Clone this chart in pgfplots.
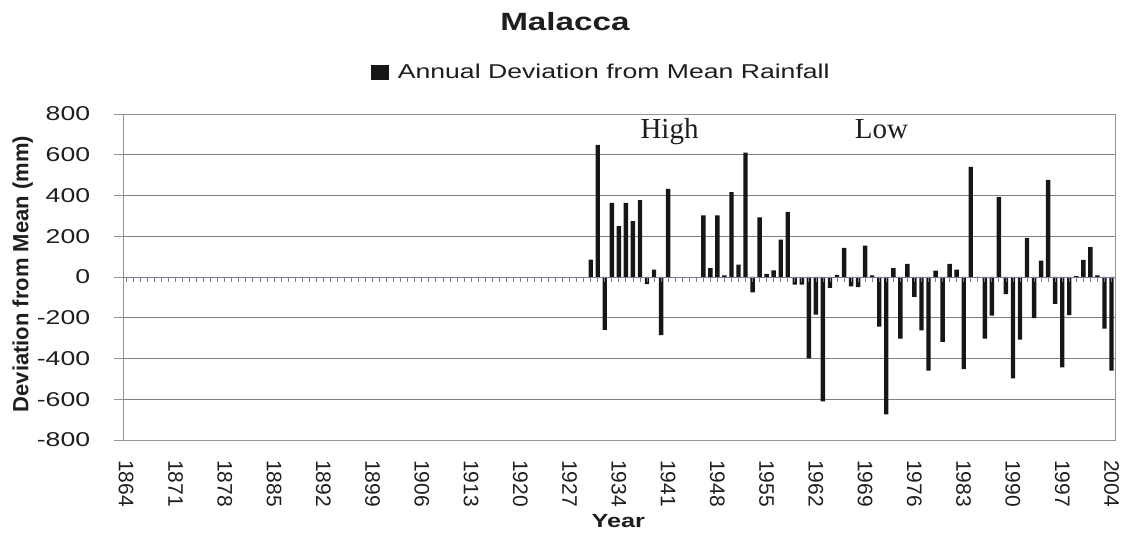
\documentclass[border=0pt]{standalone}
\usepackage{pgfplots}
\pgfplotsset{compat=1.18}
\usepackage{pgfplotstable}
\usepackage{fontspec}
\setmainfont{Liberation Sans}
\newfontfamily\wide{Liberation Sans}[FakeStretch=1.33]
\newfontfamily\serifw{Liberation Serif}
\definecolor{gridcol}{RGB}{128,128,128}
\definecolor{barcol}{RGB}{22,22,22}
\definecolor{zerocol}{RGB}{125,125,155}
\definecolor{txtcol}{RGB}{30,30,30}

\pgfplotstableread{
year dev
1930 85
1931 648
1932 -260
1933 364
1934 250
1935 364
1936 274
1937 377
1938 -35
1939 36
1940 -285
1941 433
1946 303
1947 44
1948 303
1949 8
1950 416
1951 61
1952 610
1953 -75
1954 293
1955 15
1956 33
1957 184
1958 320
1959 -38
1960 -38
1961 -400
1962 -185
1963 -610
1964 -54
1965 11
1966 143
1967 -46
1968 -50
1969 154
1970 8
1971 -243
1972 -674
1973 44
1974 -303
1975 64
1976 -98
1977 -262
1978 -460
1979 31
1980 -318
1981 64
1982 36
1983 -452
1984 541
1985 -4
1986 -303
1987 -190
1988 393
1989 -84
1990 -497
1991 -308
1992 192
1993 -202
1994 80
1995 477
1996 -132
1997 -444
1998 -187
1999 4
2000 84
2001 146
2002 8
2003 -254
2004 -460
}\devtable

\begin{document}
\begin{tikzpicture}
\useasboundingbox (0,0) rectangle (1124pt,537pt);
\begin{axis}[
  at={(122.7pt,97pt)}, anchor=south west,
  scale only axis, width=992.3pt, height=326pt,
  xmin=1863.5, xmax=2004.5, ymin=-800, ymax=800,
  axis line style={draw=gray!85},
  ytick={-800,-600,...,800},
  yticklabels={-800,-600,-400,-200,0,200,400,600,800},
  ymajorgrids, grid style={draw=gridcol, line width=0.7pt},
  xtick={1864,1871,...,2004},
  xticklabels={1864,1871,1878,1885,1892,1899,1906,1913,1920,1927,1934,1941,1948,1955,1962,1969,1976,1983,1990,1997,2004},
  xtick style={draw=none},
  ytick style={draw=gray!85, line width=0.7pt},
  tick align=outside, major tick length=9pt,
  ytick pos=left,
  xticklabel style={rotate=-90, anchor=west, inner sep=0pt, font=\fontsize{21}{25}\selectfont, text=txtcol},
  xticklabel shift=11pt,
  yticklabel style={anchor=east, inner sep=0pt, font=\wide\fontsize{20}{24}\selectfont, text=txtcol},
  yticklabel shift=23.4pt,
  title={Malacca},
  title style={at={(0.4457,1.2638)}, anchor=center, inner sep=0pt, font=\wide\bfseries\fontsize{25}{30}\selectfont, text=txtcol},
  xlabel={Year},
  xlabel style={at={(0.4995,-0.2485)}, anchor=center, inner sep=0pt, font=\wide\bfseries\fontsize{19}{22}\selectfont, text=txtcol},
  ylabel={Deviation from Mean (mm)},
  ylabel style={at={(-0.1008,0.509)}, anchor=center, inner sep=0pt, font=\bfseries\fontsize{22}{26}\selectfont, text=txtcol},
  legend style={at={(0.4815,1.1273)}, anchor=center, draw=none, fill=none, inner sep=0pt,
    font=\wide\fontsize{20}{24}\selectfont, text=txtcol,
    nodes={inner sep=0pt},
    /tikz/every odd column/.append style={column sep=9pt}},
  legend image code/.code={\fill[barcol] (0pt,-7.5pt) rectangle (17.5pt,7.5pt);},
]
\addplot[ybar, bar width=4.4pt, fill=barcol, draw=none] table[x=year, y=dev] {\devtable};
\addlegendentry{Annual Deviation from Mean Rainfall}
\node[font=\serifw\fontsize{29}{33}\selectfont, anchor=base, text=txtcol] at (axis cs:1941.2,680) {High};
\node[font=\serifw\fontsize{29}{33}\selectfont, anchor=base, text=txtcol] at (axis cs:1971.3,680) {Low};
\end{axis}
\begin{axis}[
  at={(122.7pt,260pt)}, anchor=south west,
  scale only axis, width=992.3pt, height=163pt,
  xmin=1863.5, xmax=2004.5, ymin=0, ymax=800,
  hide y axis, axis x line*=bottom,
  x axis line style={draw=zerocol, line width=0.7pt, -},
  xtick={1864,1865,...,2004}, xticklabels={},
  xtick style={draw=zerocol, line width=0.8pt},
  tick align=outside, major tick length=5pt,
]
\end{axis}
\end{tikzpicture}
\end{document}
